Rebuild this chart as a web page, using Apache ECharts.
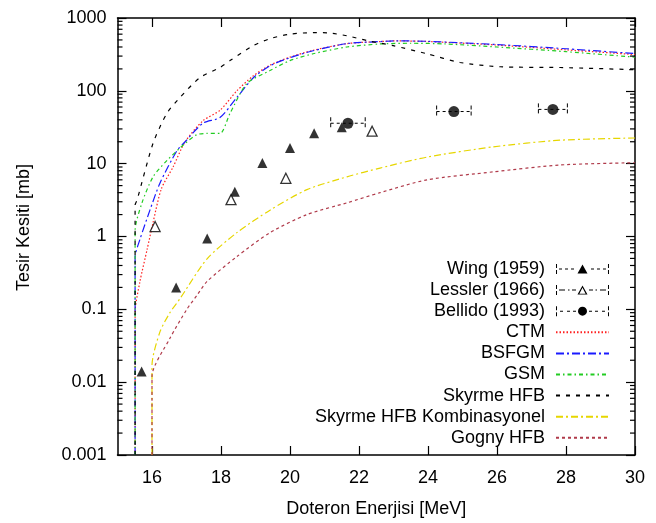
<!DOCTYPE html>
<html><head><meta charset="utf-8">
<script src="https://cdn.jsdelivr.net/npm/echarts@6/dist/echarts.min.js"></script>
<style>html,body{margin:0;padding:0;background:#fff}#c{width:656px;height:523px}</style>
</head><body><div id="c"></div>
<script>
const xTicks = [16, 18, 20, 22, 24, 26, 28, 30];
const yTicks = [0.001, 0.01, 0.1, 1, 10, 100, 1000];
const yTickLabels = ['0.001', '0.01', '0.1', '1', '10', '100', '1000'];

const wing = [[15.7,0.014],[16.7,0.20],[17.6,0.94],[18.4,4.1],[19.2,10.2],[20.0,16.4],[20.7,26.2],[21.5,31.6]];
const lessler = [[16.09,1.37],[18.29,3.2],[19.88,6.3],[22.38,27.9]];
const bellido = [[21.68,35.9],[24.75,52],[27.62,55.6]];
const bellidoErr = [0.5, 0.5, 0.42];

const ctm = [[15.51,0.001],[15.51,0.09],[15.65,0.24],[15.86,0.67],[16.03,1.55],[16.27,4.5],[16.61,9],[16.96,20],[17.48,39],[17.97,54],[18.46,100],[18.93,160],[19.42,225],[20.0,290],[20.67,360],[21.65,445],[22.61,475],[23.1,485],[24,475],[26,425],[28,365],[30,315]];
const bsfgm = [[15.51,0.001],[15.51,0.52],[15.65,0.91],[15.94,2.3],[16.23,5.4],[16.72,15],[16.96,20],[17.48,36],[17.97,43],[18.46,81],[18.93,150],[19.42,221],[20.0,285],[20.67,355],[21.65,445],[22.61,475],[23.1,485],[24,478],[26,432],[28,378],[30,325]];
const gsm = [[15.51,0.001],[15.51,1.2],[15.71,2.9],[16.03,6.6],[16.43,11],[16.96,19],[17.3,25],[17.6,26],[17.97,26],[18.26,49],[18.75,126],[19.42,190],[20.0,260],[20.67,323],[21.65,400],[22.61,440],[23.5,450],[24.5,440],[26,400],[28,345],[30,290]];
const skyrme = [[15.51,0.001],[15.51,2.7],[15.57,3.2],[16.03,19],[16.43,49],[16.81,81],[17.39,152],[17.97,209],[18.26,260],[18.93,417],[19.42,520],[20.0,600],[20.67,630],[21.1,625],[21.65,570],[22.23,490],[22.99,417],[23.97,323],[24.93,245],[26.09,214],[27.83,209],[30,195]];
const kombin = [[16.0,0.001],[16.0,0.017],[16.23,0.049],[16.52,0.09],[16.81,0.14],[17.59,0.49],[18.46,1.13],[19.42,2.3],[20.49,4.4],[21.65,6.6],[22.61,8.7],[23.97,12.3],[25.88,17],[27.83,21],[30,22.5]];
const gogny = [[16.0,0.001],[16.0,0.012],[16.52,0.04],[17.01,0.1],[17.3,0.155],[17.59,0.24],[18.46,0.53],[19.42,1.13],[20.49,2.0],[21.65,2.9],[22.61,4.0],[23.97,6.0],[25.88,7.7],[27.83,9.6],[30,10.3]];

const minorTicks = [];
for (let k = -3; k <= 2; k++) for (let m = 2; m <= 9; m++) minorTicks.push(m * Math.pow(10, k));

const FONT = 'Liberation Sans';
const chart = echarts.init(document.getElementById('c'), null, {renderer: 'canvas'});

const iconWing = 'path://M0,1h1v4h-1z M0,7h1v4h-1z M52,1h1v4h-1z M52,7h1v4h-1z M3,5.5h3v1h-3z M9,5.5h3v1h-3z M15,5.5h3v1h-3z M35,5.5h3v1h-3z M41,5.5h3v1h-3z M47,5.5h3v1h-3z M21.5,10.5L26.5,1.5L31.5,10.5Z M0,0h0.01v0.01h-0.01z M0,12h0.01v0.01h-0.01z';
const iconLessler = 'path://M0,1h1v4h-1z M0,7h1v4h-1z M52,1h1v4h-1z M52,7h1v4h-1z M3,5.5h6v1h-6z M12,5.5h1.5v1h-1.5z M16,5.5h4v1h-4z M33,5.5h4v1h-4z M39.5,5.5h1.5v1h-1.5z M44,5.5h6v1h-6z M21.5,10.5L26.5,1.5L31.5,10.5Z M23.4,9.6L29.6,9.6L26.5,3.6Z M0,0h0.01v0.01h-0.01z M0,12h0.01v0.01h-0.01z';
const iconBellido = 'path://M0,1h1v4h-1z M0,7h1v4h-1z M52,1h1v4h-1z M52,7h1v4h-1z M4,5.5h3v1h-3z M11,5.5h3v1h-3z M17,5.5h3v1h-3z M33,5.5h3v1h-3z M39,5.5h3v1h-3z M46,5.5h3v1h-3z M22,6a4.5,4.5 0 1,0 9,0a4.5,4.5 0 1,0 -9,0Z M0,0h0.01v0.01h-0.01z M0,12h0.01v0.01h-0.01z';

function lineSeries(name, data, color, type) {
  return {name, type: 'line', data, symbol: 'none', smooth: 0.25, silent: true,
    lineStyle: {color, width: 1.2, type}, itemStyle: {color}, z: 3};
}
const hideSym = {opacity: 0};
const blackIcon = {color: '#000', borderWidth: 0, opacity: 1};

chart.setOption({
  animation: false,
  backgroundColor: '#fff',
  textStyle: {fontFamily: FONT},
  grid: {left: 117.5, right: 21, top: 18, bottom: 66, containLabel: false},
  xAxis: [{
    type: 'value', min: 15, max: 30,
    name: 'Doteron Enerjisi [MeV]', nameLocation: 'middle', nameGap: 45,
    nameTextStyle: {fontFamily: FONT, fontSize: 18, color: '#000'},
    axisLine: {show: true, onZero: false, lineStyle: {color: '#000', width: 1.5}},
    axisTick: {show: true, inside: true, length: 9, customValues: xTicks, lineStyle: {color: '#000', width: 1.2}},
    axisLabel: {show: true, customValues: xTicks, margin: 14, fontFamily: FONT, fontSize: 18, color: '#000'},
    splitLine: {show: false}
  }, {
    type: 'value', min: 15, max: 30, position: 'top',
    axisLine: {show: true, onZero: false, lineStyle: {color: '#000', width: 1.5}},
    axisTick: {show: true, inside: true, length: 9, customValues: xTicks, lineStyle: {color: '#000', width: 1.2}},
    axisLabel: {show: false}, splitLine: {show: false}
  }],
  yAxis: [{
    type: 'log', logBase: 10, min: 0.001, max: 1000,
    name: 'Tesir Kesiti [mb]', nameLocation: 'middle', nameGap: 84, nameRotate: 90,
    nameTextStyle: {fontFamily: FONT, fontSize: 18, color: '#000', padding: [0, 0, 0, 18]},
    axisLine: {show: true, onZero: false, lineStyle: {color: '#000', width: 1.5}},
    axisTick: {show: true, inside: true, length: 9, customValues: yTicks, lineStyle: {color: '#000', width: 1.2}},
    axisLabel: {show: true, customValues: yTicks, margin: 11, fontFamily: FONT, fontSize: 18, color: '#000',
      formatter: v => yTickLabels[Math.round(Math.log10(v)) + 3]},
    splitLine: {show: false}
  }, {
    type: 'log', logBase: 10, min: 0.001, max: 1000, position: 'right',
    axisLine: {show: true, onZero: false, lineStyle: {color: '#000', width: 1.5}},
    axisTick: {show: true, inside: true, length: 9, customValues: yTicks, lineStyle: {color: '#000', width: 1.2}},
    axisLabel: {show: false}, splitLine: {show: false}
  }],
  legend: {
    orient: 'vertical', align: 'right', right: 46, top: 260, padding: 0,
    itemWidth: 53, itemHeight: 12, itemGap: 3.1, selectedMode: false,
    textStyle: {fontFamily: FONT, fontSize: 18, color: '#000', padding: [0, 6, 0, 0]},
    data: [
      {name: 'Wing (1959)', icon: iconWing, itemStyle: blackIcon},
      {name: 'Lessler (1966)', icon: iconLessler, itemStyle: blackIcon},
      {name: 'Bellido (1993)', icon: iconBellido, itemStyle: blackIcon},
      {name: 'CTM', itemStyle: hideSym},
      {name: 'BSFGM', itemStyle: hideSym},
      {name: 'GSM', itemStyle: hideSym},
      {name: 'Skyrme HFB', itemStyle: hideSym},
      {name: 'Skyrme HFB Kombinasyonel', itemStyle: hideSym},
      {name: 'Gogny HFB', itemStyle: hideSym}
    ]
  },
  series: [
    lineSeries('CTM', ctm, '#ff2020', [1.5, 2]),
    lineSeries('BSFGM', bsfgm, '#1a1aff', [8, 3, 2, 3]),
    lineSeries('GSM', gsm, '#22cc22', [4, 3, 1.5, 3]),
    lineSeries('Skyrme HFB', skyrme, '#000000', [4, 6]),
    lineSeries('Skyrme HFB Kombinasyonel', kombin, '#e6d600', [7, 3, 2, 3]),
    lineSeries('Gogny HFB', gogny, '#b03a4a', [3, 3]),
    {name: 'Wing (1959)', type: 'scatter', data: wing, symbol: 'triangle', symbolSize: 10,
      itemStyle: {color: '#000'}, z: 5},
    {name: 'Lessler (1966)', type: 'scatter', data: lessler, symbol: 'triangle', symbolSize: 10,
      itemStyle: {color: '#fff', borderColor: '#000', borderWidth: 1.3}, z: 5},
    {name: 'Bellido (1993)', type: 'scatter', data: bellido, symbol: 'circle', symbolSize: 11,
      itemStyle: {color: '#000'}, z: 5},
    {name: 'bellidoErr', type: 'custom', z: 4, silent: true,
      data: bellido.map((d, i) => [d[0], d[1], bellidoErr[i]]),
      renderItem: (params, api) => {
        const x = api.value(0), y = api.value(1), e = api.value(2);
        const a = api.coord([x - e, y]), b = api.coord([x + e, y]);
        const st = {stroke: '#000', lineWidth: 1, lineDash: [3, 3]};
        return {type: 'group', children: [
          {type: 'line', shape: {x1: a[0], y1: a[1], x2: b[0], y2: b[1]}, style: st},
          {type: 'line', shape: {x1: a[0], y1: a[1] - 6, x2: a[0], y2: a[1] + 6}, style: {stroke: '#000', lineWidth: 1, lineDash: [4, 2]}},
          {type: 'line', shape: {x1: b[0], y1: b[1] - 6, x2: b[0], y2: b[1] + 6}, style: {stroke: '#000', lineWidth: 1, lineDash: [4, 2]}}
        ]};
      }},
    {name: 'minorTicks', type: 'custom', z: 6, silent: true, clip: false,
      data: minorTicks.map(v => [15, v]),
      renderItem: (params, api) => {
        const v = api.value(1);
        const l = api.coord([15, v]), r = api.coord([30, v]);
        const st = {stroke: '#000', lineWidth: 1.2};
        return {type: 'group', children: [
          {type: 'line', shape: {x1: l[0], y1: l[1], x2: l[0] + 5, y2: l[1]}, style: st},
          {type: 'line', shape: {x1: r[0], y1: r[1], x2: r[0] - 5, y2: r[1]}, style: st}
        ]};
      }}
  ]
});
</script>
</body></html>
